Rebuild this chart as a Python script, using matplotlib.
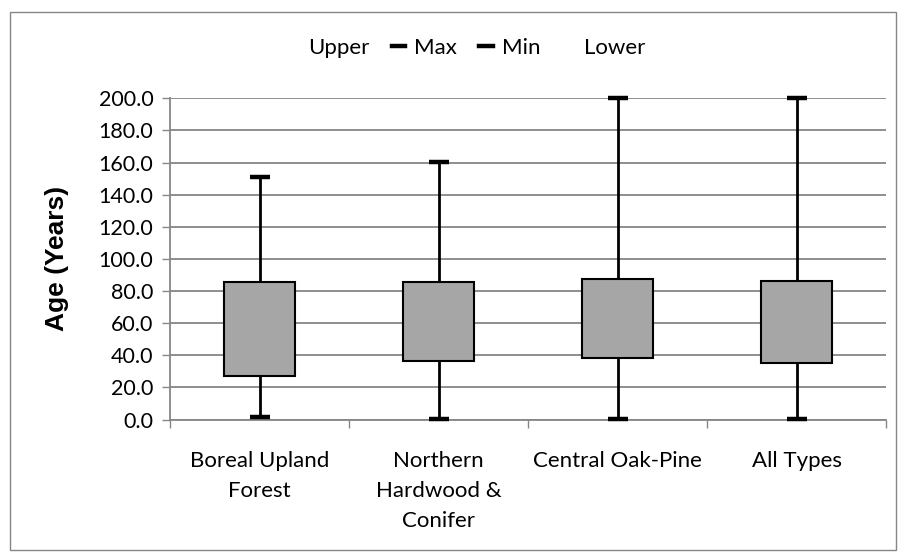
import matplotlib
matplotlib.use("Agg")
import matplotlib.pyplot as plt
from matplotlib.lines import Line2D
from matplotlib.patches import Patch, Rectangle

categories = ["Boreal Upland\nForest", "Northern\nHardwood &\nConifer", "Central Oak-Pine", "All Types"]
min_vals = [1.5, 0.5, 0.5, 0.5]
lower_vals = [26.8, 36.5, 38.5, 35.0]
upper_vals = [85.5, 85.5, 87.5, 86.5]
max_vals = [151.0, 160.5, 200.0, 200.0]
yticks = [0, 20, 40, 60, 80, 100, 120, 140, 160, 180, 200]

W, H = 906, 560
fig = plt.figure(figsize=(W / 100, H / 100), dpi=100)
fig.patch.set_facecolor("white")
fig.patches.append(Rectangle((10 / W, 10 / H), 886 / W, 538 / H, transform=fig.transFigure,
                             fill=False, edgecolor="#868686", linewidth=1.0))

ax = fig.add_axes([170 / W, 1 - 419.5 / H, 716 / W, (419.5 - 98.3) / H])
grid_c = "#868686"
x = list(range(len(categories)))

heights = [u - l for u, l in zip(upper_vals, lower_vals)]
ax.vlines(x, min_vals, max_vals, color="black", linewidth=2.0, zorder=3)
ax.bar(x, heights, bottom=lower_vals, width=0.4, color="#A6A6A6", edgecolor="black",
       linewidth=1.5, zorder=4)
ax.plot(x, max_vals, linestyle="none", marker="_", markersize=14, markeredgewidth=3.2,
        color="black", zorder=5, clip_on=False)
ax.plot(x, min_vals, linestyle="none", marker="_", markersize=14, markeredgewidth=3.2,
        color="black", zorder=5, clip_on=False)

ax.set_xlim(-0.5, len(categories) - 0.5)
ax.set_ylim(0, 200)
ax.set_yticks(yticks)
ax.set_yticklabels([f"{v:.1f}" for v in yticks], fontfamily="Lato", fontsize=15.5)
ax.yaxis.grid(True, color=grid_c, linewidth=1.3)
ax.set_axisbelow(True)

ax.set_xticks([i - 0.5 for i in range(len(categories) + 1)], minor=False)
ax.set_xticklabels([])
ax.set_xticks(x, minor=True)
ax.set_xticklabels(categories, minor=True, fontfamily="Lato", fontsize=16, linespacing=1.62)
ax.tick_params(axis="x", which="major", direction="out", length=6, color=grid_c, width=1)
ax.tick_params(axis="x", which="minor", length=0, pad=23)
ax.tick_params(axis="y", direction="out", length=6, color=grid_c, width=1, pad=6)
for lbl in ax.get_xticklabels(minor=True):
    lbl.set_verticalalignment("top")

for s in ["top", "right"]:
    ax.spines[s].set_visible(False)
for s in ["left", "bottom"]:
    ax.spines[s].set_color(grid_c)
    ax.spines[s].set_linewidth(1.3)

fig.text(57 / W, 1 - 258.5 / H, "Age (Years)", rotation=90, ha="center", va="center",
         fontfamily="Liberation Sans", fontweight="bold", fontsize=19)

blank = Patch(facecolor="none", edgecolor="none")
dash = Line2D([], [], color="black", linewidth=3.2)
fig.legend([blank, dash, dash, blank], ["Upper", "Max", "Min", "Lower"], ncol=4,
           loc="center", bbox_to_anchor=(466 / W, 1 - 48 / H), frameon=False,
           prop={"family": "Lato", "size": 16}, handlelength=0.6, handletextpad=0.4,
           columnspacing=1.0)

fig.savefig("out.png", dpi=100, facecolor="white")
